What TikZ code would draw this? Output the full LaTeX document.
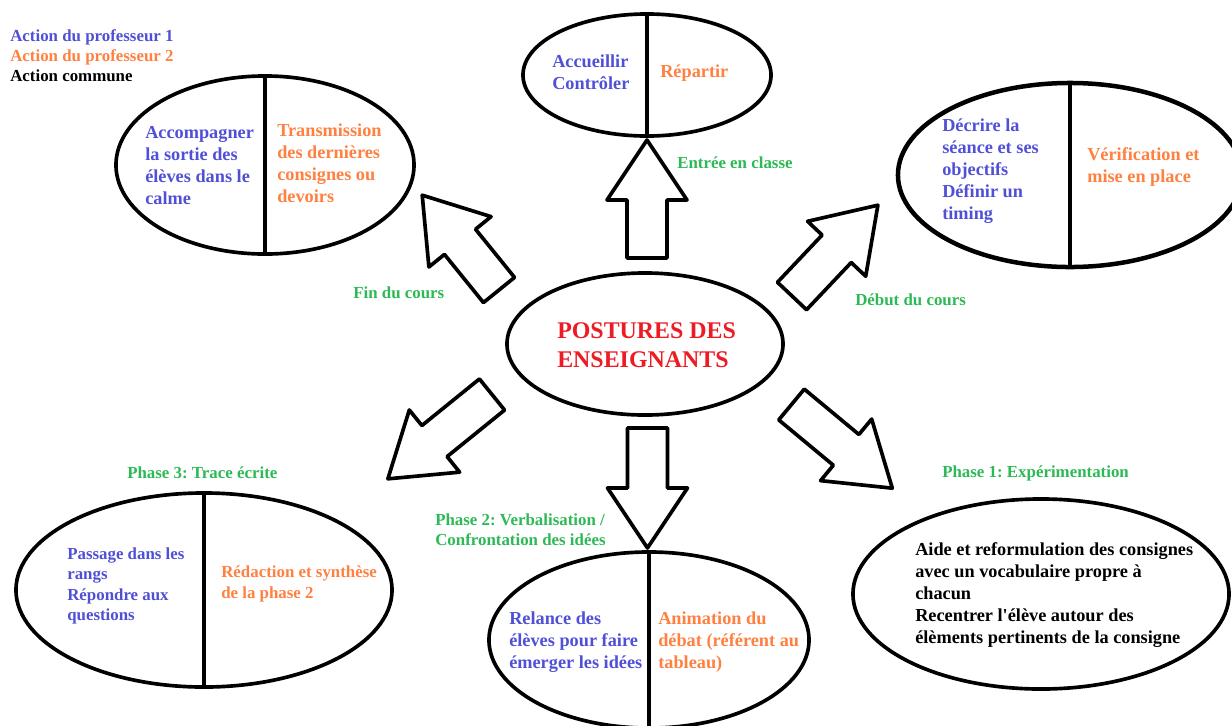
\documentclass[tikz,border=0pt]{standalone}
\usepackage{fontspec}
\setmainfont{Liberation Serif}
\usetikzlibrary{shapes.geometric}
\frenchspacing

\definecolor{profblue}{RGB}{80,80,215}
\definecolor{proforange}{RGB}{255,128,64}
\definecolor{phasegreen}{RGB}{45,185,85}
\definecolor{titlered}{RGB}{237,28,36}

\begin{document}
\begin{tikzpicture}[
  x=0.025cm, y=-0.025cm,
  font=\bfseries\fontsize{13}{15.6}\selectfont,
  bubble/.style={draw, ellipse, line width=2.6pt, inner sep=0pt},
  divider/.style={line width=2.6pt},
  txt/.style={anchor=west, align=left, inner sep=0pt},
  smalltxt/.style={txt, font=\bfseries\fontsize{12}{14.4}\selectfont},
  prof1/.style={txt, text=profblue},
  prof2/.style={txt, text=proforange},
  phase/.style={smalltxt, text=phasegreen},
  pics/blockarrow/.style={code={
    \draw[line width=2.6pt, line join=round, fill=white]
      (0,-20) -- (#1-60,-20) -- (#1-60,-40) -- (#1,0) -- (#1-60,40) -- (#1-60,20) -- (0,20) -- cycle;}}
]
\useasboundingbox (0,0) rectangle (1232,725);

% legend
\node[smalltxt] (legend) at (10,55.5)
  {\textcolor{profblue}{Action du professeur 1}\\
   \textcolor{proforange}{Action du professeur 2}\\
   Action commune};

% centre
\node[bubble, minimum width=6.9cm, minimum height=3.55cm] (postures) at (645,344) {};
\node[txt, text=titlered, font=\bfseries\fontsize{17}{20.5}\selectfont] (title) at (557,345.5)
  {POSTURES DES\\ENSEIGNANTS};

% entree en classe
\node[bubble, minimum width=6.2cm, minimum height=3.05cm] (entree) at (647,75) {};
\draw[divider] (entree.north) -- (entree.south);
\node[prof1] (entreeL) at (552,72.5) {Accueillir\\Contr\^oler};
\node[prof2] (entreeR) at (660,73) {Répartir};
\pic[rotate=90] at (647,258) {blockarrow=118};
\node[phase] (entreeLab) at (677,163) {Entrée en classe};

% fin du cours
\node[bubble, minimum width=7.45cm, minimum height=4.45cm] (fin) at (265,165) {};
\draw[divider] (fin.north) -- (fin.south);
\node[prof1] (finL) at (145,165.5) {Accompagner\\la sortie des\\élèves dans le\\calme};
\node[prof2] (finR) at (277,163) {Transmission\\des dernières\\consignes ou\\devoirs};
\pic[rotate=129] at (499,290) {blockarrow=122};
\node[phase] (finLab) at (353,293) {Fin du cours};

% debut du cours
\node[bubble, line width=3.2pt, minimum width=8.6cm, minimum height=4.6cm] (debut) at (1070,175) {};
\draw[divider, line width=3.2pt] (debut.north) -- (debut.south);
\node[prof1] (debutL) at (942,171.5) {Décrire la\\séance et ses\\objectifs\\Définir un\\timing};
\node[prof2] (debutR) at (1087,167) {Vérification et\\mise en place};
\pic[rotate=46.6] at (792,296) {blockarrow=125};
\node[phase] (debutLab) at (855,300) {Début du cours};

% phase 3
\node[bubble, minimum width=9.4cm, minimum height=4.85cm] (phase3) at (204,590) {};
\draw[divider] (phase3.north) -- (phase3.south);
\node[smalltxt, text=profblue] (phase3L) at (67,586) {Passage dans les\\rangs\\Répondre aux\\questions};
\node[smalltxt, text=proforange] (phase3R) at (221,584) {Rédaction et synthèse\\de la phase 2};
\pic[rotate=-141] at (492,394.5) {blockarrow=134};
\node[phase] (phase3Lab) at (127,473) {Phase 3: Trace écrite};

% phase 2
\node[bubble, minimum width=8.0cm, minimum height=4.4cm] (phase2) at (649,640) {};
\draw[divider] (phase2.north) -- (phase2.south);
\node[prof1] (phase2L) at (509,642) {Relance des\\élèves pour faire\\émerger les idées};
\node[prof2] (phase2R) at (658,642) {Animation du\\débat (référent au\\tableau)};
\pic[rotate=-90] at (647.5,428) {blockarrow=120};
\node[phase, font=\bfseries\fontsize{12}{14.2}\selectfont] (phase2Lab) at (435,530)
  {Phase 2: Verbalisation /\\Confrontation des idées};

% phase 1
\node[bubble, minimum width=9.4cm, minimum height=4.75cm] (phase1) at (1041,594) {};
\node[txt] (phase1T) at (915,595) {Aide et reformulation des consignes\\avec un vocabulaire propre à\\chacun\\Recentrer l\textquotesingle élève autour des\\élèments pertinents de la consigne};
\pic[rotate=-39.7] at (791.5,404.5) {blockarrow=131};
\node[phase] (phase1Lab) at (942,473) {Phase 1: Expérimentation};

\end{tikzpicture}
\end{document}
